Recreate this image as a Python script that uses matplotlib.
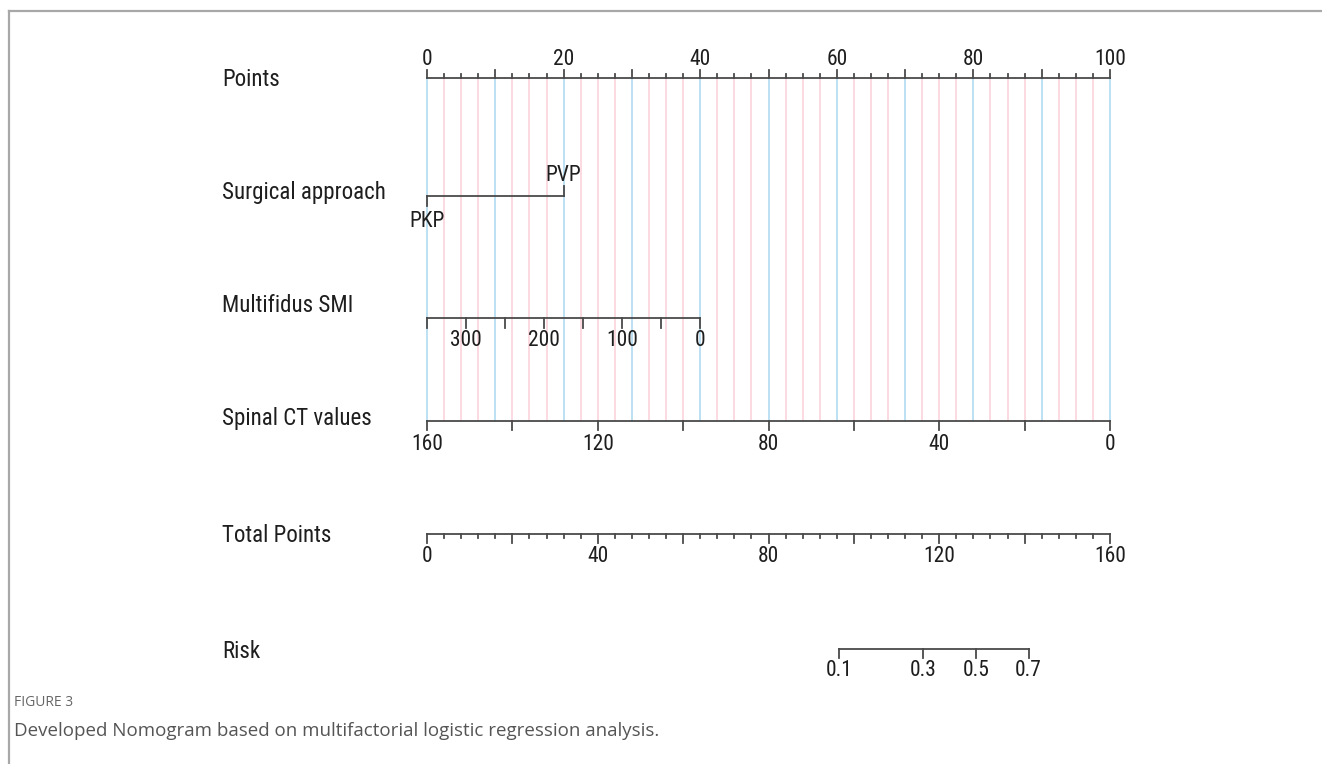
import matplotlib
matplotlib.use("Agg")
import matplotlib.pyplot as plt
import numpy as np
import os
from matplotlib import font_manager

# nomogram data
row_names = ["Points", "Surgical approach", "Multifidus SMI",
             "Spinal CT values", "Total Points", "Risk"]

surg_levels = ["PKP", "PVP"]
surg_points = [0, 20]

smi_max = 350          # SMI value at 0 points
smi_max_points = 40    # points at SMI = 0
smi_ticks = [350, 300, 250, 200, 150, 100, 50, 0]
smi_labels = [300, 200, 100, 0]

ct_max = 160           # CT value at 0 points
ct_ticks = [160, 140, 120, 100, 80, 60, 40, 20, 0]
ct_labels = [160, 120, 80, 40, 0]

total_max = 160
total_labels = [0, 40, 80, 120, 160]

risk_vals = [0.1, 0.3, 0.5, 0.7]
risk_mid = 128.6       # total points where risk = 0.5
risk_slope = 0.0686    # logit per total point

# look for a condensed font file, the figure uses a narrow typeface
files = font_manager.findSystemFonts()
prefs = ["robotocondensed-regular", "dejavusanscondensed.ttf",
         "liberationsansnarrow-regular", "opensans_condensed-regular",
         "opensanscondensed-regular"]
cond_file = None
for pref in prefs:
    for f in files:
        if os.path.basename(f).lower().startswith(pref):
            cond_file = f
            break
    if cond_file:
        break
if cond_file:
    fp = font_manager.FontProperties(fname=cond_file)
else:
    fp = font_manager.FontProperties(family="DejaVu Sans")

W, H = 1322, 764
fig = plt.figure(figsize=(W / 100, H / 100), dpi=100)
ax = fig.add_axes([0, 0, 1, 1])
px0, px100 = 427, 1110
scale = (px100 - px0) / 100.0
ax.set_xlim(-px0 / scale, (W - px0) / scale)
ax.set_ylim(H, 0)
ax.axis("off")

line_c = "#4a4a4a"
txt_c = "#1e1e1e"
lw = 1.3
fs = 15.5

def txt(x, y, s, size=fs, **kw):
    ax.text(x, y, s, fontproperties=fp, fontsize=size, color=txt_c, **kw)

y_pts, y_surg, y_smi, y_ct, y_tot, y_risk = 78, 196, 318, 421, 534, 649
label_x = (222 - px0) / scale

# grid lines
for p in np.arange(0, 100.01, 2.5):
    col = "#a9d9f0" if p % 10 == 0 else "#fad0da"
    ax.plot([p, p], [y_pts, y_ct], color=col, lw=1.1, zorder=1)

# row labels
label_y = [79, 192, 306, 419, 535, 651]
for name, yy in zip(row_names, label_y):
    txt(label_x, yy, name, size=16.5, va="center", ha="left")

# Points axis (ticks up)
ax.plot([0, 100], [y_pts, y_pts], color=line_c, lw=lw, zorder=3)
for p in np.arange(0, 100.01, 2.5):
    L = 8 if p % 10 == 0 else 4
    ax.plot([p, p], [y_pts, y_pts - L], color=line_c, lw=lw, zorder=3)
for p in range(0, 101, 20):
    txt(p, y_pts - 8, str(p), ha="center", va="bottom")

# Surgical approach
ax.plot([surg_points[0], surg_points[1]], [y_surg, y_surg], color=line_c, lw=lw, zorder=3)
ax.plot([surg_points[0]] * 2, [y_surg, y_surg + 10], color=line_c, lw=lw, zorder=3)
ax.plot([surg_points[1]] * 2, [y_surg, y_surg - 10], color=line_c, lw=lw, zorder=3)
txt(surg_points[0], y_surg + 15, surg_levels[0], ha="center", va="top")
txt(surg_points[1], y_surg - 10, surg_levels[1], ha="center", va="bottom")

# Multifidus SMI
def smi_p(v):
    return (smi_max - v) / smi_max * smi_max_points
ax.plot([smi_p(smi_max), smi_p(0)], [y_smi, y_smi], color=line_c, lw=lw, zorder=3)
for v in smi_ticks:
    ax.plot([smi_p(v)] * 2, [y_smi, y_smi + 10], color=line_c, lw=lw, zorder=3)
for v in smi_labels:
    txt(smi_p(v), y_smi + 12, str(v), ha="center", va="top")

# Spinal CT values
def ct_p(v):
    return (ct_max - v) / ct_max * 100
ax.plot([ct_p(ct_max), ct_p(0)], [y_ct, y_ct], color=line_c, lw=lw, zorder=3)
for v in ct_ticks:
    ax.plot([ct_p(v)] * 2, [y_ct, y_ct + 9], color=line_c, lw=lw, zorder=3)
for v in ct_labels:
    txt(ct_p(v), y_ct + 13, str(v), ha="center", va="top")

# Total points
def tot_p(v):
    return v / total_max * 100
ax.plot([0, 100], [y_tot, y_tot], color=line_c, lw=lw, zorder=3)
for v in np.arange(0, total_max + 0.1, 4):
    L = 9 if v % 20 == 0 else 4
    ax.plot([tot_p(v)] * 2, [y_tot, y_tot + L], color=line_c, lw=lw, zorder=3)
for v in total_labels:
    txt(tot_p(v), y_tot + 12, str(v), ha="center", va="top")

# Risk
risk_tp = [risk_mid + np.log(r / (1 - r)) / risk_slope for r in risk_vals]
ax.plot([tot_p(risk_tp[0]), tot_p(risk_tp[-1])], [y_risk, y_risk], color=line_c, lw=lw, zorder=3)
for r, t in zip(risk_vals, risk_tp):
    ax.plot([tot_p(t)] * 2, [y_risk, y_risk + 9], color=line_c, lw=lw, zorder=3)
    txt(tot_p(t), y_risk + 11, str(r), ha="center", va="top")

# frame lines of the figure panel
fig.add_artist(plt.Line2D([9 / W, 9 / W], [0, 1 - 11 / H], color="#a8a8a8", lw=1.6))
fig.add_artist(plt.Line2D([9 / W, 1], [1 - 11 / H, 1 - 11 / H], color="#a8a8a8", lw=1.6))

# caption
fig.text(14 / W, 1 - 703 / H, "FIGURE 3", fontsize=10, color="#666666", va="center",
         family=["Open Sans", "DejaVu Sans"])
fig.text(14 / W, 1 - 731 / H,
         "Developed Nomogram based on multifactorial logistic regression analysis.",
         fontsize=13.5, color="#555555", va="center", family=["Open Sans", "DejaVu Sans"])

fig.savefig("out.png", dpi=100)
